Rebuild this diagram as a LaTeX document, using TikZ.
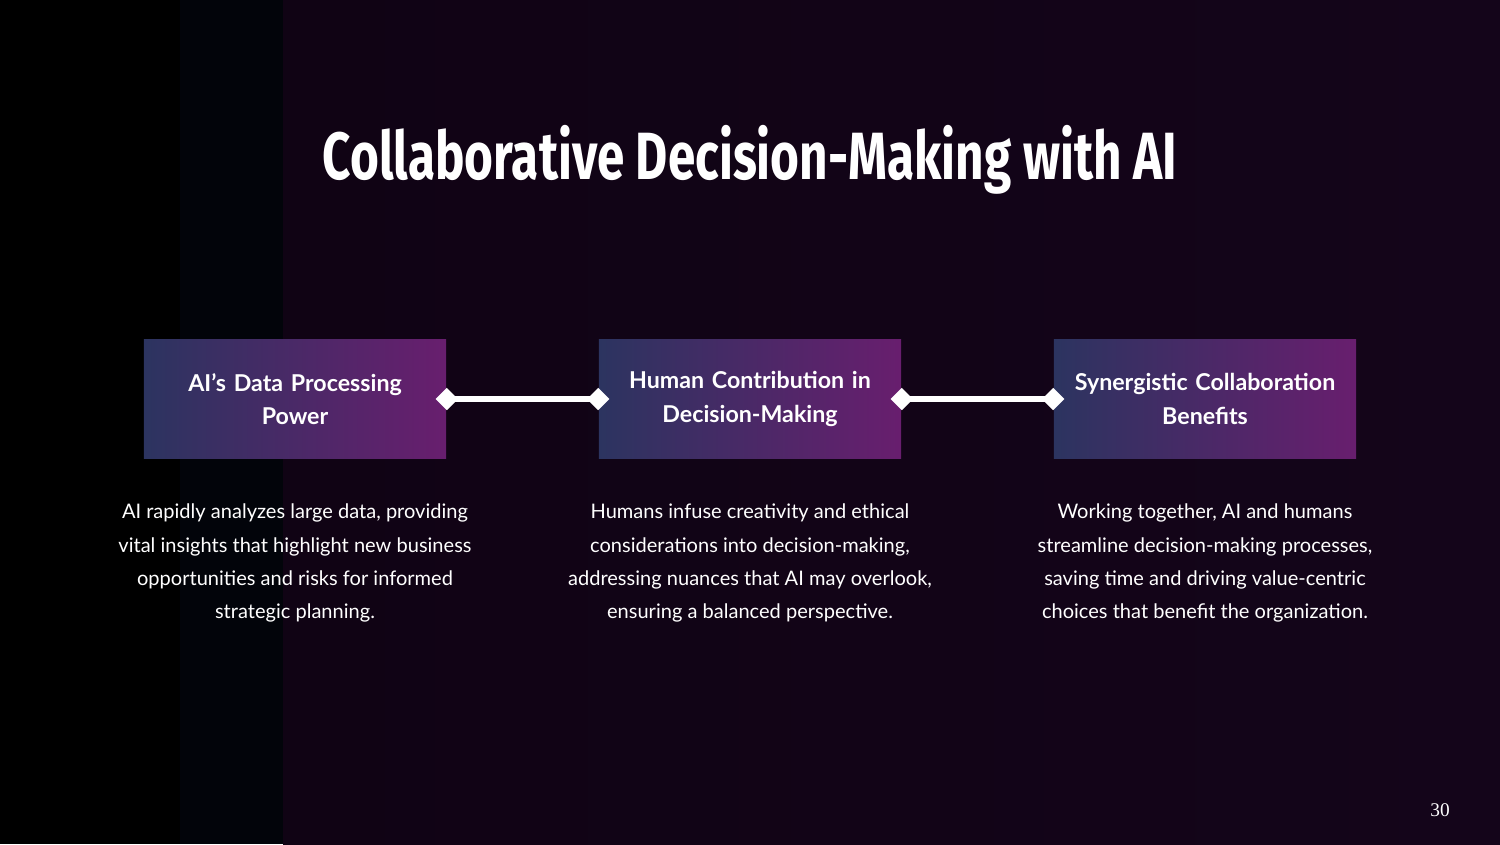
\documentclass[tikz,border=0pt]{standalone}
\usepackage{fontspec}
\setmainfont{Lato}
\newfontfamily\titlefont[FakeStretch=0.74]{Fira Sans}
\newfontfamily\numfont{Liberation Serif}
\usetikzlibrary{shapes.geometric}
\definecolor{bgdark}{RGB}{16,3,20}
\definecolor{bgright}{RGB}{20,5,26}
\definecolor{bgstrip}{RGB}{2,4,10}
\definecolor{boxleft}{RGB}{44,52,96}
\definecolor{boxright}{RGB}{104,30,110}
\tikzset{
  stepbox/.style = {rectangle, minimum width=3.02cm, minimum height=1.18cm,
    text width=2.8cm, inner sep=0pt,
    left color=boxleft, right color=boxright, draw=none, text=white,
    align=center, font=\fontsize{6.6}{9.6}\selectfont\bfseries},% titre d'etape
  stepnote/.style = {text=white, align=center,
    font=\fontsize{5.7}{9.4}\selectfont},% texte sous la boite
  joint/.style = {diamond, fill=white, inner sep=0pt, minimum size=0.23cm}% losange
}
\begin{document}
\begin{tikzpicture}[x=0.01cm,y=-0.01cm]
\useasboundingbox (0,0) rectangle (1500,844);
\shade[left color=bgdark, right color=bgright] (283,0) rectangle (1500,844);
\fill[black] (0,0) rectangle (180,844);
\fill[bgstrip] (180,0) rectangle (283,844);

\node[text=white, font=\fontsize{19}{22}\selectfont\titlefont\bfseries] (title) at (750,160)
  {Collaborative Decision-Making with AI};

\node[stepbox] (s1) at (295,399) {AI's Data Processing\\Power};
\node[stepbox] (s2) at (750,399) {Human Contribution in\\Decision-Making};
\node[stepbox] (s3) at (1205,399) {Synergistic Collaboration\\Benefits};

\draw[white, line width=1.7pt] (s1.east) -- (s2.west);
\draw[white, line width=1.7pt] (s2.east) -- (s3.west);
\node[joint] (j1) at (s1.east) {};
\node[joint] (j2) at (s2.west) {};
\node[joint] (j3) at (s2.east) {};
\node[joint] (j4) at (s3.west) {};

\node[stepnote] (n1) at (295,563) {AI rapidly analyzes large data, providing\\vital insights that highlight new business\\opportunities and risks for informed\\strategic planning.};
\node[stepnote] (n2) at (750,563) {Humans infuse creativity and ethical\\considerations into decision-making,\\addressing nuances that AI may overlook,\\ensuring a balanced perspective.};
\node[stepnote] (n3) at (1205,563) {Working together, AI and humans\\streamline decision-making processes,\\saving time and driving value-centric\\choices that benefit the organization.};

\node[text=white, font=\fontsize{5.5}{6}\selectfont\numfont] (page) at (1440,810) {30};
\end{tikzpicture}
\end{document}
